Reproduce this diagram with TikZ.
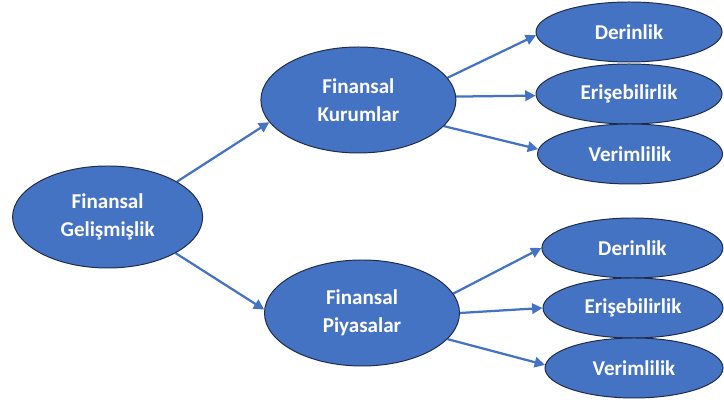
\documentclass[tikz,border=0pt]{standalone}
\usepackage{fontspec}
\setmainfont{Carlito}
\usepackage{tikz}
\usetikzlibrary{shapes}
\usetikzlibrary{shapes.geometric}
\usetikzlibrary{arrows.meta}
\pgfdeclarelayer{edgelayer}
\pgfdeclarelayer{nodelayer}
\pgfsetlayers{edgelayer,nodelayer,main}
\definecolor{officeblue}{rgb}{0.27,0.45,0.77}
\definecolor{rimblue}{rgb}{0.12,0.17,0.28}
\tikzstyle{blob}=[ellipse, inner sep=0pt, fill=officeblue, draw=rimblue, line width=0.7pt, text=white, font=\fontsize{15}{20}\selectfont\bfseries, align=center]
\tikzstyle{link}=[officeblue, line width=1.6pt, -{Triangle[length=2.6mm,width=2.6mm]}]

\begin{document}
\begin{tikzpicture}
	\useasboundingbox (0, 0) rectangle (18.1, 10);
	\begin{pgfonlayer}{nodelayer}
		\node [style=blob, minimum width=4.75cm, minimum height=2.55cm] (0) at (2.69, 4.575) {Finansal\\Gelişmişlik};
		\node [style=blob, minimum width=4.875cm, minimum height=2.65cm] (1) at (8.96, 7.5) {Finansal\\Kurumlar};
		\node [style=blob, minimum width=4.875cm, minimum height=2.65cm] (2) at (9.05, 2.175) {Finansal\\Piyasalar};
		\node [style=blob, minimum width=4.65cm, minimum height=1.5cm] (3) at (15.725, 9.2) {Derinlik};
		\node [style=blob, minimum width=4.65cm, minimum height=1.5cm] (4) at (15.725, 7.65) {Erişebilirlik};
		\node [style=blob, minimum width=4.625cm, minimum height=1.5cm] (5) at (15.75, 6.15) {Verimlilik};
		\node [style=blob, minimum width=4.525cm, minimum height=1.5cm] (6) at (15.81, 3.8) {Derinlik};
		\node [style=blob, minimum width=4.5cm, minimum height=1.5cm] (7) at (15.825, 2.3) {Erişebilirlik};
		\node [style=blob, minimum width=4.45cm, minimum height=1.5cm] (8) at (15.85, 0.8) {Verimlilik};
	\end{pgfonlayer}
	\begin{pgfonlayer}{edgelayer}
		\draw [style=link] (0.27) to (1.194);
		\draw [style=link] (0.332) to (2.178);
		\draw [style=link] (1.14) to (3.182);
		\draw [style=link] (1.2) to (4.181);
		\draw [style=link] (1.343) to (5.177);
		\draw [style=link] (2.12) to (6.180);
		\draw [style=link] (2.0) to (7.180);
		\draw [style=link] (2.343) to (8.178);
	\end{pgfonlayer}
\end{tikzpicture}
\end{document}
